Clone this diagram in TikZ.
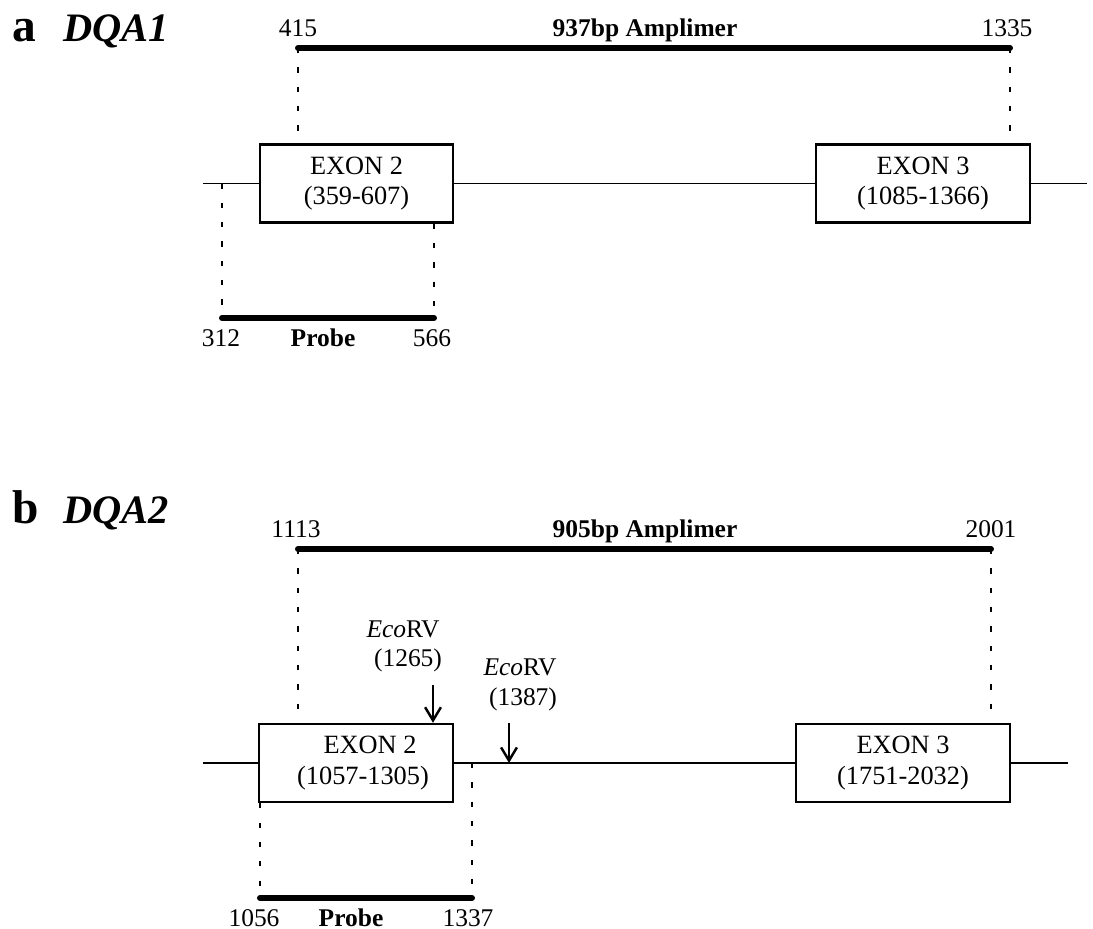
\documentclass[tikz,border=0pt]{standalone}
\usepackage{fontspec}
\setmainfont{Liberation Serif}
\usetikzlibrary{arrows.meta}
\begin{document}
\begin{tikzpicture}[x=0.02cm,y=-0.02cm,
  numtxt/.style={anchor=base,inner sep=0pt,font=\fontsize{14.5}{16}\selectfont},
  boldtxt/.style={anchor=base,inner sep=0pt,font=\fontsize{14.5}{16}\selectfont\bfseries},
  paneltag/.style={anchor=base west,inner sep=0pt,font=\fontsize{27}{29}\selectfont\bfseries},
  genetag/.style={anchor=base west,inner sep=0pt,font=\fontsize{23}{25}\selectfont\bfseries\itshape},
  exonbox/.style={draw,line width=1.4pt,minimum height=1.56cm,inner sep=0pt,align=center,
    font=\fontsize{15}{17.5}\selectfont},
  backbone/.style={line width=1pt},
  thickbar/.style={line width=3.4pt,line cap=round},
  guide/.style={line width=0.6pt,dash pattern=on 3pt off 8pt},
  cutarrow/.style={line width=1.4pt,-{Straight Barb[length=7.5pt,width=9pt,line width=1.4pt]}}
]
\useasboundingbox (0,0) rectangle (1093,929);

% ---------------- panel a ----------------
\node[paneltag] (ta) at (12,42) {a};
\node[genetag] (ga) at (63,42) {DQA1};

\coordinate (aAmpL) at (298,48);
\coordinate (aAmpR) at (1010,48);
\node[numtxt] (n415) at (298,37) {415};
\node[numtxt] (n1335) at (1007,37) {1335};
\node[boldtxt] (aAmp) at (645,37) {937bp Amplimer};
\draw[thickbar] (aAmpL) -- (aAmpR);

\node[exonbox,minimum width=3.86cm] (e2a) at (356.5,183.5) {EXON 2\\(359-607)};
\node[exonbox,minimum width=4.28cm] (e3a) at (923,183.5) {EXON 3\\(1085-1366)};

\coordinate (aBL) at (203,183.5);
\coordinate (aBR) at (1087,183.5);
\draw[backbone] (aBL) -- (e2a.west);
\draw[backbone] (e2a.east) -- (e3a.west);
\draw[backbone] (e3a.east) -- (aBR);

\draw[guide] (aAmpL) -- (aAmpL |- e2a.north);
\draw[guide] (aAmpR) -- (aAmpR |- e3a.north);

\coordinate (aPrL) at (222,318);
\coordinate (aPrR) at (434,318);
\draw[thickbar] (aPrL) -- (aPrR);
\draw[guide] (aPrL |- aBL) -- (aPrL);
\draw[guide] (aPrR |- e2a.south) -- (aPrR);
\node[numtxt] (n312) at (221,347) {312};
\node[boldtxt] (aProbe) at (323,347) {Probe};
\node[numtxt] (n566) at (432,347) {566};

% ---------------- panel b ----------------
\node[paneltag] (tb) at (12,523) {b};
\node[genetag] (gb) at (63,523) {DQA2};

\coordinate (bAmpL) at (298,549);
\coordinate (bAmpR) at (991,549);
\node[numtxt] (n1113) at (296,538) {1113};
\node[numtxt] (n2001) at (991,538) {2001};
\node[boldtxt] (bAmp) at (645,538) {905bp Amplimer};
\draw[thickbar] (bAmpL) -- (bAmpR);

\node[exonbox,minimum width=3.88cm] (e2b) at (356,763) {\hspace*{0.56cm}EXON 2\\\hspace*{0.28cm}(1057-1305)};
\node[exonbox,minimum width=4.28cm] (e3b) at (903,763) {EXON 3\\(1751-2032)};

\coordinate (bBL) at (203,763);
\coordinate (bBR) at (1068,763);
\draw[backbone] (bBL) -- (e2b.west);
\draw[backbone] (e2b.east) -- (e3b.west);
\draw[backbone] (e3b.east) -- (bBR);

\draw[guide] (bAmpL) -- (bAmpL |- e2b.north);
\draw[guide] (bAmpR) -- (bAmpR |- e3b.north);

% EcoRV sites
\node[numtxt] (eco1) at (403,637) {\textit{Eco}RV};
\node[numtxt] (eco1n) at (408,666) {(1265)};
\coordinate (cut1) at (433,685);
\draw[cutarrow] (cut1) -- (cut1 |- e2b.north);

\node[numtxt] (eco2) at (520,675) {\textit{Eco}RV};
\node[numtxt] (eco2n) at (523,705) {(1387)};
\coordinate (cut2) at (509,723);
\draw[cutarrow] (cut2) -- (cut2 |- bBL);

\coordinate (bPrL) at (260,898);
\coordinate (bPrR) at (472,898);
\draw[thickbar] (bPrL) -- (bPrR);
\draw[guide] (bPrL |- e2b.south) -- (bPrL);
\draw[guide] (bPrR |- bBL) -- (bPrR);
\node[numtxt] (n1056) at (254,926) {1056};
\node[boldtxt] (bProbe) at (351,926) {Probe};
\node[numtxt] (n1337) at (468,926) {1337};
\end{tikzpicture}
\end{document}
